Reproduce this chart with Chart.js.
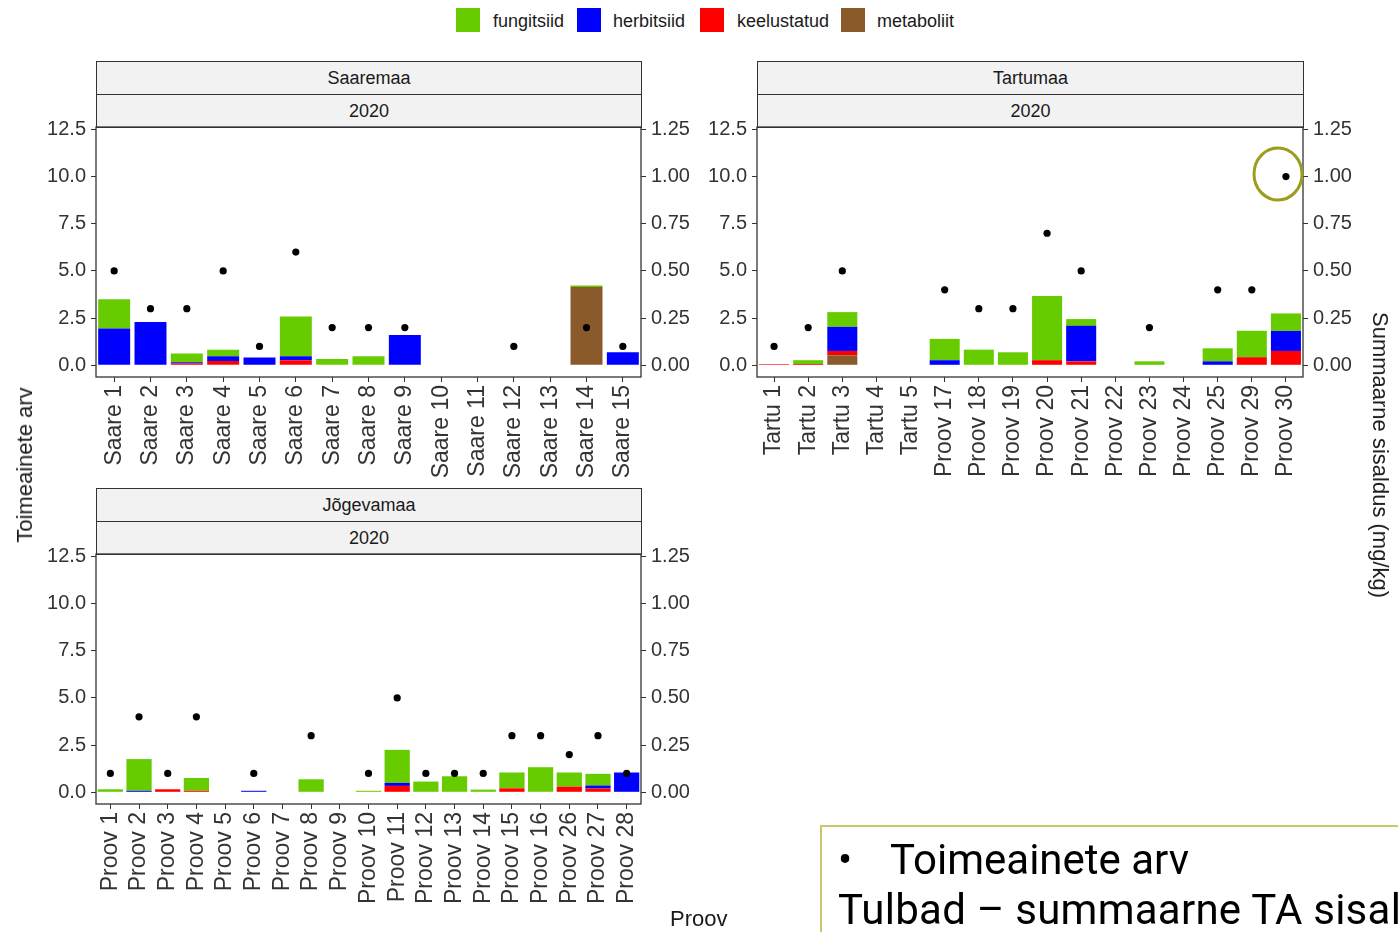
<!DOCTYPE html>
<html>
<head>
<meta charset="utf-8">
<script src="https://cdn.jsdelivr.net/npm/chart.js@4.4.1/dist/chart.umd.min.js"></script>
<style>
  html, body { margin: 0; padding: 0; background: #fff; }
  body { width: 1398px; height: 932px; position: relative; overflow: hidden;
         font-family: "Liberation Sans", Arial, sans-serif; color: #1a1a1a; }
  .abs { position: absolute; }
  .strip { position: absolute; box-sizing: border-box; background: #F2F2F2;
           border: 1px solid #333; font-size: 18px; color: #1a1a1a;
           text-align: center; line-height: 33px; }
  .key { position: absolute; width: 24px; height: 24px; top: 8px; }
  .keytxt { position: absolute; top: 10px; font-size: 18px; line-height: 22px; color: #1a1a1a; }
  .axtitle { position: absolute; font-size: 22px; color: #1a1a1a; white-space: nowrap; }
  canvas { position: absolute; }
  .note { position: absolute; left: 820px; top: 825px; width: 600px; height: 120px;
          box-sizing: border-box; border-top: 2px solid #C8C86A; border-left: 2px solid #C8C86A;
          font-family: Roboto, sans-serif; font-size: 42px; color: #000; }
  .note span { position: absolute; white-space: nowrap; }
</style>
</head>
<body>

<!-- shared legend -->
<div class="key" style="left:456px;background:#66CC00"></div>
<div class="keytxt" style="left:493px">fungitsiid</div>
<div class="key" style="left:577px;background:#0000FF"></div>
<div class="keytxt" style="left:613px">herbitsiid</div>
<div class="key" style="left:700px;background:#FF0000"></div>
<div class="keytxt" style="left:737px">keelustatud</div>
<div class="key" style="left:841px;background:#8B5A2B"></div>
<div class="keytxt" style="left:877px">metaboliit</div>

<!-- facet strips -->
<div class="strip" style="left:96px;top:61px;width:546px;height:34px">Saaremaa</div>
<div class="strip" style="left:96px;top:94px;width:546px;height:34px">2020</div>
<div class="strip" style="left:757px;top:61px;width:547px;height:34px">Tartumaa</div>
<div class="strip" style="left:757px;top:94px;width:547px;height:34px">2020</div>
<div class="strip" style="left:96px;top:488px;width:546px;height:34px">Jõgevamaa</div>
<div class="strip" style="left:96px;top:521px;width:546px;height:34px">2020</div>

<canvas id="saare"></canvas>
<canvas id="tartu"></canvas>
<canvas id="jogeva"></canvas>

<!-- axis titles -->
<div class="axtitle" style="left:25px;top:465px;transform:translate(-50%,-50%) rotate(-90deg)">Toimeainete arv</div>
<div class="axtitle" style="left:1380px;top:455px;transform:translate(-50%,-50%) rotate(90deg)">Summaarne sisaldus (mg/kg)</div>
<div class="axtitle" style="left:670px;top:906px">Proov</div>

<!-- highlight ring around the largest count -->
<svg class="abs" style="left:0;top:0" width="1398" height="932">
  <ellipse cx="1278" cy="174" rx="24" ry="26" fill="none" stroke="#9C9C1E" stroke-width="3"/>
</svg>

<div class="note">
  <span style="left:16px;top:8px">•</span>
  <span style="left:68px;top:8px">Toimeainete arv</span>
  <span style="left:16px;top:58px;letter-spacing:0.25px">Tulbad – summaarne TA sisaldus</span>
</div>

<script>
// ---- Saaremaa ----
const saareLabels = ['Saare 1','Saare 2','Saare 3','Saare 4','Saare 5','Saare 6','Saare 7','Saare 8',
                     'Saare 9','Saare 10','Saare 11','Saare 12','Saare 13','Saare 14','Saare 15'];
const saareFung = [0.155, null, 0.046, 0.035, null, 0.211, 0.034, 0.048, null, null, null, null, null, 0.008, null];
const saareHerb = [0.195, 0.230, 0.006, 0.025, 0.041, 0.021, null, null, 0.161, null, null, null, null, null, 0.069];
const saareKeel = [null, null, 0.010, 0.023, null, 0.027, null, null, null, null, null, null, null, null, null];
const saareMeta = [null, null, null, null, null, null, null, null, null, null, null, null, null, 0.415, null];
const saareArv  = [5, 3, 3, 5, 1, 6, 2, 2, 2, null, null, 1, null, 2, 1];

// ---- Tartumaa ----
const tartuLabels = ['Tartu 1','Tartu 2','Tartu 3','Tartu 4','Tartu 5','Proov 17','Proov 18','Proov 19',
                     'Proov 20','Proov 21','Proov 22','Proov 23','Proov 24','Proov 25','Proov 29','Proov 30'];
const tartuFung = [null, 0.020, 0.078, null, null, 0.113, 0.083, 0.069, 0.340, 0.036, null, 0.021, null, 0.069, 0.140, 0.093];
const tartuHerb = [null, null, 0.128, null, null, 0.027, null, null, null, 0.188, null, null, null, 0.021, null, 0.106];
const tartuKeel = [0.006, 0.007, 0.023, null, null, null, null, null, 0.027, 0.021, null, null, null, null, 0.043, 0.076];
const tartuMeta = [null, null, 0.053, null, null, null, null, null, null, null, null, null, null, null, null, null];
const tartuArv  = [1, 2, 5, null, null, 4, 3, 3, 7, 5, null, 2, null, 4, 4, 10];

// ---- Jõgevamaa ----
const jogevaLabels = ['Proov 1','Proov 2','Proov 3','Proov 4','Proov 5','Proov 6','Proov 7','Proov 8','Proov 9',
                      'Proov 10','Proov 11','Proov 12','Proov 13','Proov 14','Proov 15','Proov 16','Proov 26','Proov 27','Proov 28'];
const jogevaFung = [0.016, 0.168, null, 0.068, null, null, null, 0.069, null, 0.008, 0.175, 0.057, 0.085, 0.014, 0.084, 0.133, 0.075, 0.062, null];
const jogevaHerb = [null, 0.008, null, null, null, 0.008, null, null, null, null, 0.016, null, null, null, null, null, null, 0.016, 0.105];
const jogevaKeel = [null, null, 0.016, 0.008, null, null, null, null, null, null, 0.034, null, null, null, 0.021, null, 0.030, 0.020, null];
const jogevaMeta = [null, null, null, null, null, null, null, null, null, null, null, null, null, null, null, null, null, null, null];
const jogevaArv  = [1, 4, 1, 4, null, 1, null, 3, null, 1, 5, 1, 1, 1, 3, 3, 2, 3, 1];

// axis ticks (left: count, right: mg/kg)
const countTicks = [0, 2.5, 5, 7.5, 10, 12.5];
const concTicks  = [0, 0.25, 0.5, 0.75, 1.0, 1.25];

const COLORS = { fung: '#66CC00', herb: '#0000FF', keel: '#FF0000', meta: '#8B5A2B' };
const TXT = '#333';
const AXIS_W = 70, PAD_TOP = 20, XAXIS_H = 115;

// black frame round each panel
const frame = {
  id: 'frame',
  afterDraw(chart) {
    const a = chart.chartArea, ctx = chart.ctx;
    ctx.save();
    ctx.strokeStyle = '#333';
    ctx.lineWidth = 1.3;
    ctx.strokeRect(a.left, a.top, a.right - a.left, a.bottom - a.top);
    ctx.restore();
  }
};

function tickGrid() {
  return { display: true, drawOnChartArea: false, drawTicks: true, tickLength: 5, color: '#333', lineWidth: 1 };
}

function panel(id, plotLeft, plotTop, plotRight, plotBottom, labels, fung, herb, keel, meta, arv) {
  const cv = document.getElementById(id);
  const w = (plotRight - plotLeft) + 2 * AXIS_W;
  const h = (plotBottom - plotTop) + PAD_TOP + XAXIS_H;
  cv.width = w; cv.height = h;
  cv.style.left = (plotLeft - AXIS_W) + 'px';
  cv.style.top = (plotTop - PAD_TOP) + 'px';
  cv.style.width = w + 'px'; cv.style.height = h + 'px';

  const bar = (label, data, color) => ({
    type: 'bar', label, data, backgroundColor: color, borderWidth: 0,
    yAxisID: 'y2', barPercentage: 0.88, categoryPercentage: 1.0, order: 2
  });

  new Chart(cv, {
    type: 'bar',
    data: {
      labels,
      datasets: [
        // stacked bottom-to-top: metaboliit, keelustatud, herbitsiid, fungitsiid
        bar('metaboliit', meta, COLORS.meta),
        bar('keelustatud', keel, COLORS.keel),
        bar('herbitsiid', herb, COLORS.herb),
        bar('fungitsiid', fung, COLORS.fung),
        {
          type: 'line', label: 'Toimeainete arv', data: arv, yAxisID: 'y',
          showLine: false, pointRadius: 3.6, pointHoverRadius: 3.6,
          pointBackgroundColor: '#000', pointBorderColor: '#000', pointBorderWidth: 0, order: 1
        }
      ]
    },
    options: {
      responsive: false, animation: false, devicePixelRatio: 1,
      layout: { padding: { top: PAD_TOP, left: 0, right: 0, bottom: 0 } },
      plugins: { legend: { display: false }, tooltip: { enabled: false } },
      scales: {
        x: {
          stacked: true,
          grid: Object.assign(tickGrid(), { offset: false }),
          border: { display: false },
          ticks: {
            autoSkip: false, minRotation: 90, maxRotation: 90, padding: 3,
            color: TXT, font: { family: 'Liberation Sans', size: 23 }
          },
          afterFit(s) { s.height = XAXIS_H; }
        },
        y: {
          position: 'left', min: -0.62, max: 12.63,
          grid: tickGrid(), border: { display: false },
          ticks: { color: TXT, padding: 5, font: { family: 'Liberation Sans', size: 20 },
                   callback: v => Number(v).toFixed(1) },
          afterBuildTicks(s) { s.ticks = countTicks.map(v => ({ value: v })); },
          afterFit(s) { s.width = AXIS_W; }
        },
        y2: {
          position: 'right', stacked: true, min: -0.062, max: 1.263,
          grid: tickGrid(), border: { display: false },
          ticks: { color: TXT, padding: 5, font: { family: 'Liberation Sans', size: 20 },
                   callback: v => Number(v).toFixed(2) },
          afterBuildTicks(s) { s.ticks = concTicks.map(v => ({ value: v })); },
          afterFit(s) { s.width = AXIS_W; }
        }
      }
    },
    plugins: [frame]
  });
}

panel('saare', 96, 127, 641, 377, saareLabels, saareFung, saareHerb, saareKeel, saareMeta, saareArv);
panel('tartu', 757, 127, 1303, 377, tartuLabels, tartuFung, tartuHerb, tartuKeel, tartuMeta, tartuArv);
panel('jogeva', 96, 554, 641, 804, jogevaLabels, jogevaFung, jogevaHerb, jogevaKeel, jogevaMeta, jogevaArv);
</script>
</body>
</html>
